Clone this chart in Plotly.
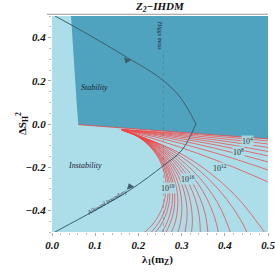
import plotly.graph_objects as go

# ---------------- data ----------------
x_ticks = [0.0, 0.1, 0.2, 0.3, 0.4, 0.5]
x_tick_text = ["0.0", "0.1", "0.2", "0.3", "0.4", "0.5"]
y_ticks = [-0.4, -0.2, 0.0, 0.2, 0.4]
y_tick_text = ["\u22120.4", "\u22120.2", "0.0", "0.2", "0.4"]

# stability (dark) region outline
stab_lambda = [0.044, 0.047, 0.050, 0.053, 0.057, 0.061, 0.5, 0.5, 0.044]
stab_ds = [0.5, 0.4, 0.3, 0.2, 0.1, -0.003, -0.069, 0.5, 0.5]

# red stability boundary
bnd_lambda = [0.061, 0.5]
bnd_ds = [-0.003, -0.069]

# red contours that leave through the right edge
re_lambda = [0.1597, 0.2500, 0.3356, 0.4144, 0.5000, 0.5532]
re_ds_1 = [-0.0255, -0.0368, -0.0494, -0.0626, -0.0787, -0.0897]
re_ds_2 = [-0.0255, -0.0398, -0.0557, -0.0723, -0.0926, -0.1064]
re_ds_3 = [-0.0255, -0.0432, -0.0630, -0.0836, -0.1088, -0.1260]
re_ds_4 = [-0.0255, -0.0472, -0.0713, -0.0966, -0.1273, -0.1483]
re_ds_5 = [-0.0255, -0.0516, -0.0807, -0.1111, -0.1481, -0.1734]
re_ds_6 = [-0.0255, -0.0575, -0.0932, -0.1305, -0.1759, -0.2069]
re_ds_7 = [-0.0255, -0.0654, -0.1099, -0.1563, -0.2130, -0.2516]
re_ds_8 = [-0.0255, -0.0772, -0.1349, -0.1951, -0.2685, -0.3186]
right_exit_ds = [re_ds_1, re_ds_2, re_ds_3, re_ds_4, re_ds_5, re_ds_6, re_ds_7, re_ds_8]

# red contours that leave through the bottom edge
bc_lam_01 = [0.1620, 0.3030, 0.4216, 0.5130]
bc_ds_01 = [-0.0278, -0.1425, -0.3253, -0.5625]
bc_lam_02 = [0.1620, 0.2728, 0.3660, 0.4378, 0.4829]
bc_ds_02 = [-0.0278, -0.1179, -0.2615, -0.4479, -0.6648]
bc_lam_03 = [0.1620, 0.2510, 0.3258, 0.3835, 0.4197]
bc_ds_03 = [-0.0278, -0.1002, -0.2155, -0.3652, -0.5394]
bc_lam_04 = [0.1620, 0.2376, 0.3011, 0.3501, 0.3808, 0.3912]
bc_ds_04 = [-0.0278, -0.0893, -0.1872, -0.3143, -0.4622, -0.6215]
bc_lam_05 = [0.1620, 0.2282, 0.2838, 0.3267, 0.3536, 0.3627]
bc_ds_05 = [-0.0278, -0.0816, -0.1673, -0.2786, -0.4081, -0.5476]
bc_lam_06 = [0.1620, 0.2218, 0.2721, 0.3108, 0.3351, 0.3433, 0.3351]
bc_ds_06 = [-0.0278, -0.0764, -0.1538, -0.2544, -0.3714, -0.4975, -0.6236]
bc_lam_07 = [0.1620, 0.2157, 0.2609, 0.2957, 0.3176, 0.3250, 0.3176]
bc_ds_07 = [-0.0278, -0.0715, -0.1411, -0.2315, -0.3367, -0.4500, -0.5633]
bc_lam_08 = [0.1620, 0.2117, 0.2535, 0.2857, 0.3059, 0.3128, 0.3059]
bc_ds_08 = [-0.0278, -0.0682, -0.1326, -0.2162, -0.3135, -0.4183, -0.5231]
bc_lam_09 = [0.1620, 0.2077, 0.2461, 0.2757, 0.2943, 0.3006, 0.2943, 0.2757]
bc_ds_09 = [-0.0278, -0.0649, -0.1241, -0.2009, -0.2903, -0.3867, -0.4830, -0.5724]
bc_lam_10 = [0.1620, 0.2047, 0.2405, 0.2682, 0.2855, 0.2914, 0.2855, 0.2682]
bc_ds_10 = [-0.0278, -0.0625, -0.1177, -0.1895, -0.2730, -0.3629, -0.4529, -0.5364]
bc_lam_11 = [0.1620, 0.2023, 0.2362, 0.2623, 0.2787, 0.2843, 0.2787, 0.2623]
bc_ds_11 = [-0.0278, -0.0606, -0.1128, -0.1806, -0.2594, -0.3444, -0.4294, -0.5083]
bc_lam_12 = [0.1620, 0.2006, 0.2331, 0.2581, 0.2738, 0.2792, 0.2738, 0.2581, 0.2331]
bc_ds_12 = [-0.0278, -0.0592, -0.1093, -0.1742, -0.2498, -0.3313, -0.4127, -0.4883, -0.5532]
bc_lam_13 = [0.1620, 0.1986, 0.2294, 0.2531, 0.2680, 0.2731, 0.2680, 0.2531, 0.2294]
bc_ds_13 = [-0.0278, -0.0575, -0.1050, -0.1666, -0.2382, -0.3154, -0.3926, -0.4643, -0.5258]
bc_lam_14 = [0.1620, 0.1973, 0.2269, 0.2498, 0.2641, 0.2690, 0.2641, 0.2498, 0.2269]
bc_ds_14 = [-0.0278, -0.0565, -0.1022, -0.1615, -0.2305, -0.3049, -0.3793, -0.4483, -0.5074]
bc_lam_15 = [0.1620, 0.1956, 0.2238, 0.2456, 0.2593, 0.2639, 0.2593, 0.2456, 0.2238, 0.1956]
bc_ds_15 = [-0.0278, -0.0551, -0.0986, -0.1551, -0.2208, -0.2917, -0.3625, -0.4282, -0.4847, -0.5282]
bottom_lams = [bc_lam_01, bc_lam_02, bc_lam_03, bc_lam_04, bc_lam_05, bc_lam_06, bc_lam_07,
               bc_lam_08, bc_lam_09, bc_lam_10, bc_lam_11, bc_lam_12, bc_lam_13, bc_lam_14, bc_lam_15]
bottom_dss = [bc_ds_01, bc_ds_02, bc_ds_03, bc_ds_04, bc_ds_05, bc_ds_06, bc_ds_07,
              bc_ds_08, bc_ds_09, bc_ds_10, bc_ds_11, bc_ds_12, bc_ds_13, bc_ds_14, bc_ds_15]

# dark boundary curve (upper and lower branch)
up_lambda = [0.0069, 0.088, 0.1644, 0.250, 0.2963, 0.3333]
up_ds = [0.500, 0.410, 0.3194, 0.213, 0.125, 0.000]
lo_lambda = [0.3333, 0.3009, 0.2569, 0.1806, 0.1111, 0.0069]
lo_ds = [0.000, -0.1204, -0.1944, -0.3056, -0.3866, -0.500]

# Higgs mass line
higgs_lambda = [0.258, 0.258]
higgs_ds = [-0.5, 0.34]

# contour labels
clab_text = ["10<sup>4</sup>", "10<sup>8</sup>", "10<sup>12</sup>", "10<sup>16</sup>", "10<sup>19</sup>"]
clab_lambda = [0.4514, 0.4306, 0.3889, 0.3148, 0.2685]
clab_ds = [-0.0787, -0.1296, -0.2037, -0.2546, -0.2963]

# ---------------- figure ----------------
LIGHT = "#acdeea"
DARK = "#4fa3be"
RED = "rgb(240,70,70)"
LINE = "#3e5f6d"
SERIF = "Liberation Serif"

fig = go.Figure()

fig.add_trace(go.Scatter(x=stab_lambda, y=stab_ds, mode="lines", fill="toself",
                         fillcolor=DARK, line=dict(width=0), hoverinfo="skip"))

for ds in right_exit_ds:
    fig.add_trace(go.Scatter(x=re_lambda, y=ds, mode="lines",
                             line=dict(color=RED, width=0.75, shape="spline")))
for lam, ds in zip(bottom_lams, bottom_dss):
    fig.add_trace(go.Scatter(x=lam, y=ds, mode="lines",
                             line=dict(color=RED, width=0.75, shape="spline")))

fig.add_trace(go.Scatter(x=bnd_lambda, y=bnd_ds, mode="lines",
                         line=dict(color=RED, width=0.8)))

fig.add_trace(go.Scatter(x=higgs_lambda, y=higgs_ds, mode="lines",
                         line=dict(color="rgba(80,100,110,0.45)", width=0.8, dash="dot")))

fig.add_trace(go.Scatter(x=up_lambda, y=up_ds, mode="lines",
                         line=dict(color=LINE, width=1.0, shape="spline")))
fig.add_trace(go.Scatter(x=lo_lambda, y=lo_ds, mode="lines",
                         line=dict(color=LINE, width=1.0, shape="spline")))

# arrows on the boundary curve
fig.add_trace(go.Scatter(x=[0.1736, 0.1806], y=[0.295, -0.290], mode="markers",
                         marker=dict(symbol="triangle-up", size=7, angle=[200, -20],
                                     color=LINE, line=dict(width=0))))

ann = []
for t, lx, ly in zip(clab_text, clab_lambda, clab_ds):
    ann.append(dict(x=lx, y=ly, xref="x", yref="y", text=t, showarrow=False,
                    font=dict(family=SERIF, size=8, color="#333"),
                    bgcolor="rgba(172,222,234,0.85)", borderpad=0))

ann += [
    dict(x=0.0995, y=0.1667, xref="x", yref="y", text="Stability", showarrow=False,
         font=dict(family=SERIF, size=8, color="#223", style="italic")),
    dict(x=0.0764, y=-0.19, xref="x", yref="y", text="Instability", showarrow=False,
         font=dict(family=SERIF, size=8, color="#223", style="italic")),
    dict(x=0.249, y=0.41, xref="x", yref="y", text="Higgs mass", showarrow=False,
         textangle=90, font=dict(family=SERIF, size=6, color="#223", style="italic")),
    dict(x=0.127, y=-0.360, xref="x", yref="y", text="Allowed boundary", showarrow=False,
         textangle=-30, font=dict(family=SERIF, size=6, color="#223", style="italic")),
    dict(x=0.5, y=1.042, xref="paper", yref="paper", text="Z<sub>2</sub>\u2212IHDM",
         showarrow=False, yanchor="middle",
         font=dict(family=SERIF, size=11, color="#111", style="italic", weight="bold")),
    dict(x=0.49, y=-0.13, xref="paper", yref="paper", text="\u03bb<sub>1</sub>(m<sub>Z</sub>)",
         showarrow=False, yanchor="middle",
         font=dict(family=SERIF, size=11, color="#111", weight="bold")),
    dict(x=-0.185, y=0.5, xref="paper", yref="paper",
         text="\u0394S<sub>H</sub><sup>2</sup>", showarrow=False, textangle=-90,
         font=dict(family=SERIF, size=11, color="#111", weight="bold")),
]

fig.update_layout(
    width=275, height=276,
    margin=dict(l=52, r=7, t=16, b=44, autoexpand=False),
    paper_bgcolor="white", plot_bgcolor=LIGHT,
    showlegend=False,
    annotations=ann,
    shapes=[dict(type="line", xref="paper", yref="paper", x0=-0.023, x1=1.0,
                 y0=1.008, y1=1.008, line=dict(color="#999", width=1))],
)
fig.update_xaxes(range=[0, 0.5], tickvals=x_ticks, ticktext=x_tick_text, automargin=False,
                 ticklabeloverflow="allow",
                 showgrid=False, zeroline=False, ticks="outside", ticklen=3,
                 tickcolor="#aaa", tickwidth=1,
                 minor=dict(dtick=0.02, ticks="outside", ticklen=2, tickcolor="#bbb"),
                 tickfont=dict(family=SERIF, size=11, color="#111", style="italic", weight="bold"))
fig.update_yaxes(range=[-0.5, 0.5], tickvals=y_ticks, ticktext=y_tick_text, automargin=False,
                 ticklabeloverflow="allow",
                 showgrid=False, zeroline=False, ticks="outside", ticklen=3,
                 tickcolor="#aaa", tickwidth=1,
                 minor=dict(dtick=0.05, ticks="outside", ticklen=2, tickcolor="#bbb"),
                 tickfont=dict(family=SERIF, size=11, color="#111", style="italic", weight="bold"))

fig.write_html("out.html", config={"displayModeBar": False},
               post_script="document.body.style.margin='0px';")
